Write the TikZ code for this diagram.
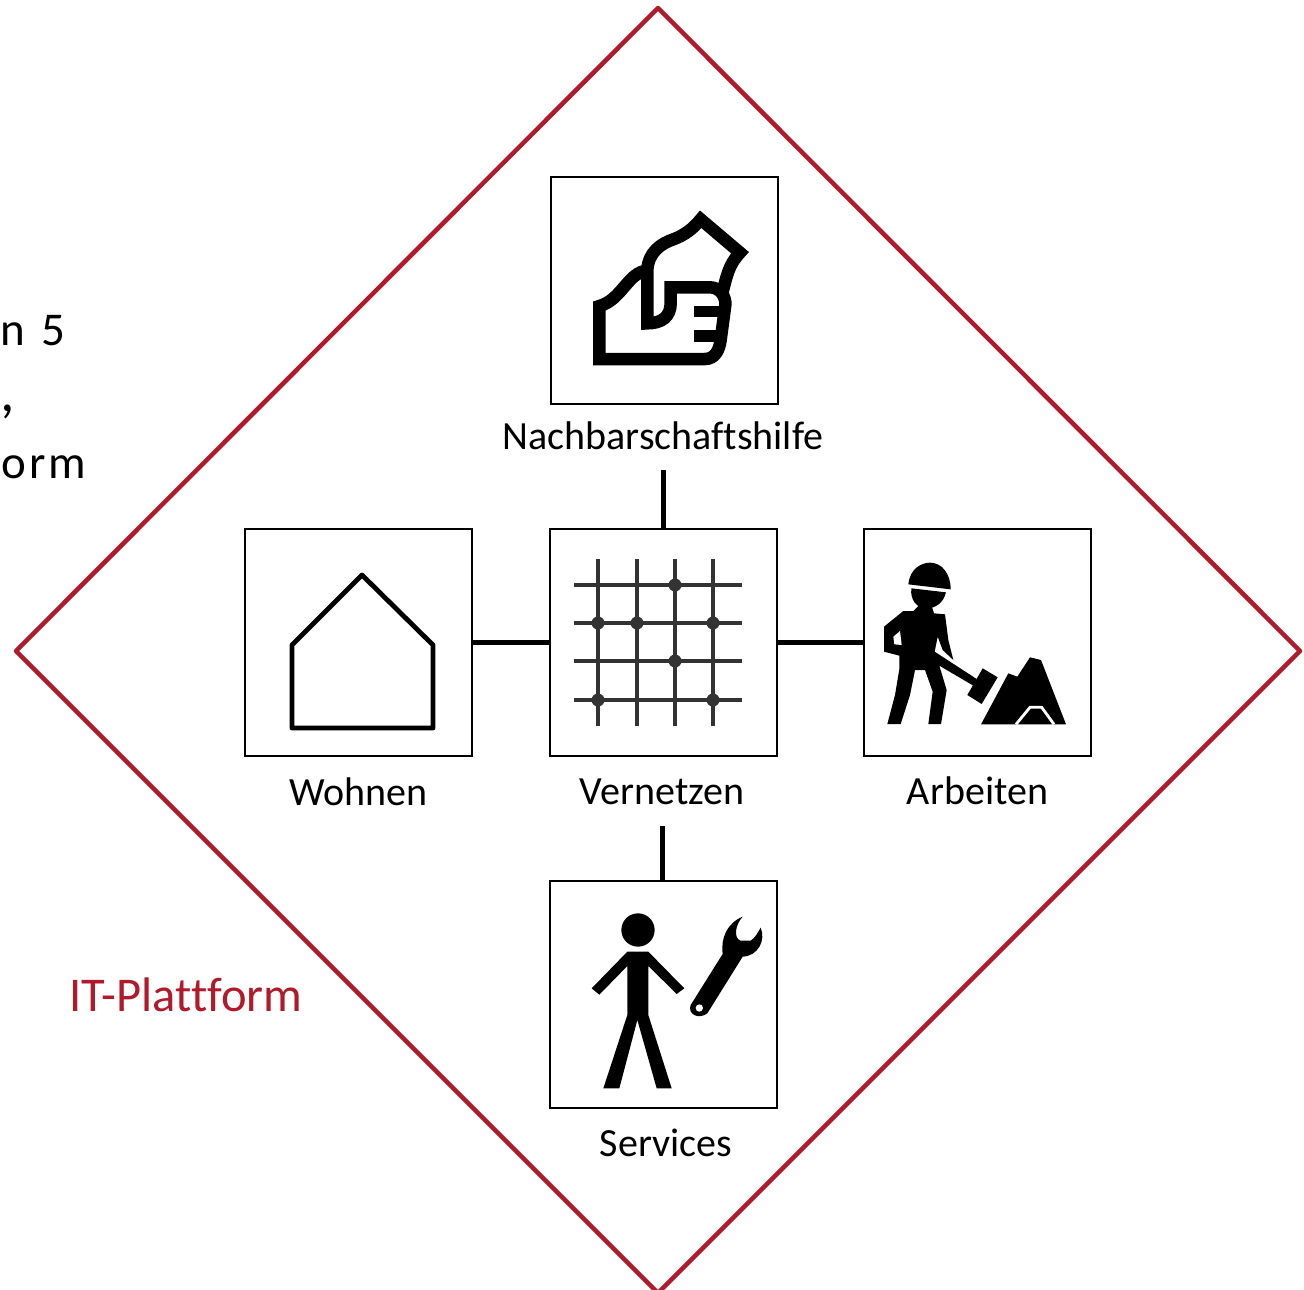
\documentclass[tikz,border=0pt]{standalone}
\usepackage{fontspec}
\setmainfont{Carlito}[Ligatures=NoCommon]
\newfontfamily\spacedfont[LetterSpace=7]{Carlito}
\usepackage[usenames,dvipsnames]{xcolor}
\definecolor{platformred}{HTML}{B01A2B}
\definecolor{gridgrey}{HTML}{333333}

\begin{document}
\begin{tikzpicture}
[x=1pt,y=-1pt,
 iconbox/.style={rectangle,draw,line width=1.8pt,inner sep=0pt,minimum size=227pt},
 boxlabel/.style={inner sep=0pt,font=\fontsize{40}{40}\selectfont},
 cutlabel/.style={inner sep=0pt,anchor=base west,font=\spacedfont\fontsize{47}{47}\selectfont},
 link/.style={line width=5pt},
 solid icon/.style={fill=black,draw=none},
 outline icon/.style={line width=12.5pt,line join=miter},
 grid line/.style={line width=3.2pt,draw=gridgrey},
 grid dot/.style={circle,fill=gridgrey,inner sep=0pt,minimum size=13pt}]
\useasboundingbox (0,0) rectangle (1304,1290);
\clip (0,0) rectangle (1304,1290);
% diamond
\draw[platformred,line width=4.5pt,line join=round]
  (658,8) -- (1300,651) -- (658,1293) -- (16,651) -- cycle;
\node[inner sep=0pt,text=platformred,font=\fontsize{48.5}{49}\selectfont] (platform) at (186,995) {IT-Plattform};
% cut off text
\node[cutlabel] (cut1) at (0,345) {n\hspace{3pt} 5};
\node[cutlabel,font=\spacedfont\fontsize{58}{58}\selectfont] (cut2) at (0,411) {,};
\node[cutlabel] (cut3) at (1,478) {orm};
% boxes
\node[iconbox] (hilfe)    at (664.5,290.5) {};
\node[iconbox] (wohnen)   at (358.5,642.5) {};
\node[iconbox] (vernetzen) at (663.5,642.5) {};
\node[iconbox] (arbeiten) at (977.5,642.5) {};
\node[iconbox] (services) at (663.5,994.5) {};
% labels
\node[boxlabel] (hilfe-l)     at (663,436) {Nachbarschaftshilfe};
\node[boxlabel] (wohnen-l)    at (358.5,792) {Wohnen};
\node[boxlabel] (vernetzen-l) at (662,792) {Vernetzen};
\node[boxlabel] (arbeiten-l)  at (977.5,791) {Arbeiten};
\node[boxlabel] (services-l)  at (666,1143) {Services};
\coordinate (hilfe-end) at (663,470);
\coordinate (services-end) at (662,826);
\draw[link] (hilfe-end)    -- (hilfe-end |- vernetzen.north);
\draw[link] (services-end) -- (services-end |- services.north);
\draw[link] (wohnen.east)  -- (vernetzen.west);
\draw[link] (vernetzen.east) -- (arbeiten.west);
% house
\draw[line width=4.8pt,line join=round]
  (292,645) -- (362,575) -- (433,645) -- (433,728) -- (292,728) -- cycle;
% net
\foreach \gx in {598,637,675,713}
  \draw[grid line] (\gx,559) -- (\gx,726);
\foreach \gy in {585,623,661,700}
  \draw[grid line] (574,\gy) -- (742,\gy);
\foreach \gx/\gy in {675/585,598/623,637/623,713/623,675/661,598/700,713/700}
  \node[grid dot] (dot-\gx-\gy) at (\gx,\gy) {};
% hand
\begin{scope}[shift={(550,180)},scale=1/3]
\draw[outline icon] (292,272) .. controls (235,275) and (215,360) .. (148,378)
  -- (148,537) -- (465,537) .. controls (495,537) and (508,510) .. (512,480)
  -- (526,375) .. controls (528,350) and (510,322) .. (480,322) -- (362,322) -- (362,370)
  .. controls (362,410) and (335,430) .. (292,430) -- (292,270)
  .. controls (295,215) and (335,190) .. (370,178) .. controls (405,165) and (430,145) .. (452,118)
  -- (570,218) .. controls (535,255) and (530,290) .. (518,335);
\fill[solid icon] (433,378) rectangle (510,412);
\fill[solid icon] (433,450) rectangle (505,485);
\end{scope}
% worker
\begin{scope}[shift={(860,525)},scale=1/3]
\fill[solid icon] (145,178) .. controls (150,130) and (185,113) .. (210,113)
  .. controls (245,113) and (272,145) .. (272,193) -- cycle;
\fill[solid icon] (154,190) -- (258,202) .. controls (250,235) and (225,250) .. (200,250)
  .. controls (170,250) and (150,225) .. (154,190) -- cycle;
\fill[solid icon] (130,258) -- (160,258) -- (175,243) -- (215,243) -- (222,265) -- (255,268)
  -- (265,345) -- (280,405) -- (248,375) -- (233,335) -- (224,380) -- (350,462) -- (340,482) -- (238,422)
  -- (260,495) -- (243,597) -- (205,597) -- (218,500) -- (195,435) -- (165,435) -- (150,510)
  -- (122,597) -- (82,597) -- (105,510) -- (118,432) -- (118,392) -- (72,380) -- (72,305) -- cycle;
\fill[white] (120,318) -- (100,335) -- (103,358) -- (125,360) -- cycle;
\fill[solid icon] (368,430) -- (413,457) -- (365,537) -- (322,510) -- cycle;
\fill[solid icon] (363,598) -- (445,445) -- (472,455) -- (510,397) -- (543,405) -- (618,598) -- cycle;
\draw[white,line width=2.8pt,line join=miter] (468,598) -- (510,547) -- (545,547) -- (582,598);
\end{scope}
% person with wrench
\begin{scope}[shift={(550,880)},scale=1/3]
\fill[solid icon] (264,150) circle (50);
\fill[solid icon] (125,325) -- (232,215) -- (295,215) -- (403,325) -- (380,342) -- (295,258)
  -- (295,405) -- (365,625) -- (320,625) -- (262,420) -- (208,625) -- (160,625) -- (232,405)
  -- (232,258) -- (148,344) -- cycle;
\fill[solid icon] (422,375) -- (518,222) .. controls (512,175) and (530,130) .. (578,110)
  .. controls (555,135) and (550,175) .. (572,182) -- (602,182) .. controls (615,175) and (625,155) .. (632,143)
  .. controls (648,180) and (625,228) .. (578,230) -- (472,400) .. controls (445,420) and (412,402) .. (422,375) -- cycle;
\fill[white] (448,384) circle (11);
\end{scope}
\end{tikzpicture}
\end{document}
